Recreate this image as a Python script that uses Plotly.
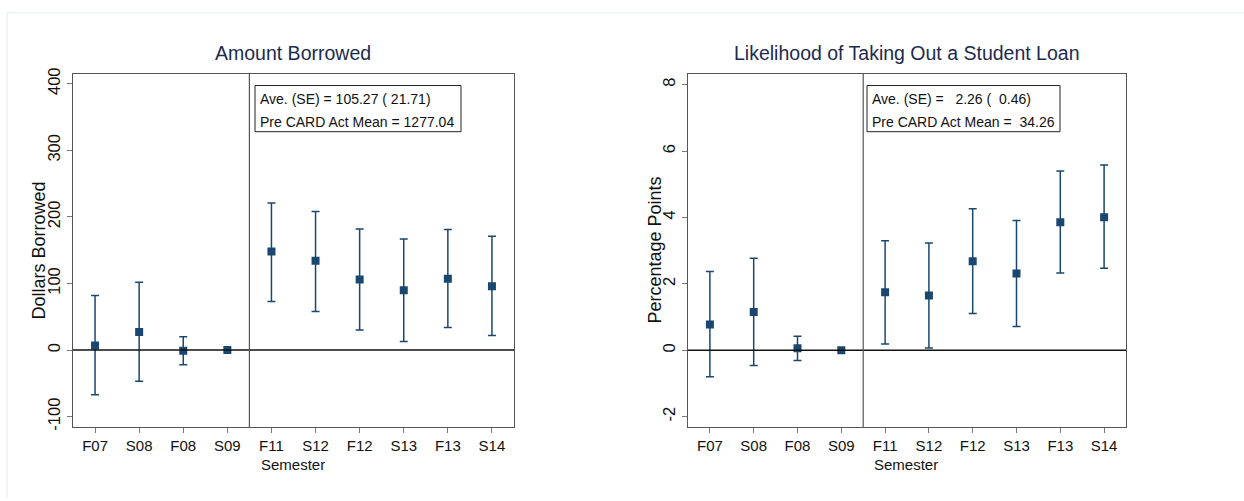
import plotly.graph_objects as go

semesters = ["F07", "S08", "F08", "S09", "F11", "S12", "F12", "S13", "F13", "S14"]

# Amount Borrowed (dollars)
amt_est = [7, 27, -1, 0, 148, 134, 106, 90, 107, 96]
amt_lo = [-67, -47, -22, None, 73, 58, 30, 13, 34, 22]
amt_hi = [82, 102, 20, None, 221, 208, 182, 167, 181, 171]

# Likelihood of taking out a student loan (percentage points)
lik_est = [0.78, 1.15, 0.06, 0.0, 1.75, 1.65, 2.68, 2.31, 3.86, 4.01]
lik_lo = [-0.80, -0.46, -0.31, None, 0.19, 0.07, 1.11, 0.72, 2.33, 2.47]
lik_hi = [2.37, 2.77, 0.42, None, 3.30, 3.23, 4.26, 3.91, 5.40, 5.58]

amt_ticks = [-100, 0, 100, 200, 300, 400]
amt_tick_labels = ["-100", "0", "100", "200", "300", "400"]
lik_ticks = [-2, 0, 2, 4, 6, 8]
lik_tick_labels = ["-2", "0", "2", "4", "6", "8"]

amt_box = ["Ave. (SE) = 105.27 ( 21.71)", "Pre CARD Act Mean = 1277.04"]
lik_box = ["Ave. (SE) = \u00a0\u00a02.26 (\u00a0\u00a00.46)", "Pre CARD Act Mean = \u00a034.26"]

NAVY = "#1a476f"
W, H = 1244, 501
FONT = "Liberation Sans, Arial, Helvetica, sans-serif"


def px(x):
    return x / W


def py(y):
    return 1 - y / H


def errs(est, lo, hi):
    plus, minus = [], []
    for e, l, h in zip(est, lo, hi):
        if l is None:
            plus.append(0)
            minus.append(0)
        else:
            plus.append(h - e)
            minus.append(e - l)
    return plus, minus


fig = go.Figure()

for est, lo, hi, xa, ya in [(amt_est, amt_lo, amt_hi, "x", "y"), (lik_est, lik_lo, lik_hi, "x2", "y2")]:
    plus, minus = errs(est, lo, hi)
    fig.add_trace(go.Scatter(
        x=list(range(len(semesters))), y=est, mode="markers",
        marker=dict(symbol="square", size=8, color=NAVY),
        error_y=dict(type="data", array=plus, arrayminus=minus, symmetric=False,
                     color=NAVY, thickness=1.5, width=4),
        xaxis=xa, yaxis=ya, showlegend=False,
    ))

axis_common = dict(showgrid=False, zeroline=False, showline=True, linecolor="#555555",
                   linewidth=1.2, mirror=True, ticks="outside", ticklen=5,
                   tickcolor="#777777")
xfont = dict(family=FONT, size=15, color="#111111")
yfont = dict(family=FONT, size=16.5, color="#111111")

fig.update_layout(
    width=W, height=H,
    margin=dict(l=0, r=0, t=0, b=0),
    paper_bgcolor="white", plot_bgcolor="white",
    xaxis=dict(domain=[px(73), px(514)], range=[-0.5, 9.5], tickvals=list(range(10)),
               ticktext=semesters, anchor="y", tickfont=xfont, **axis_common),
    yaxis=dict(domain=[py(429), py(69)], range=[-116, 415], tickvals=amt_ticks,
               ticktext=amt_tick_labels, tickangle=-90, anchor="x", tickfont=yfont, **axis_common),
    xaxis2=dict(domain=[px(688), px(1126)], range=[-0.5, 9.5], tickvals=list(range(10)),
                ticktext=semesters, anchor="y2", tickfont=xfont, **axis_common),
    yaxis2=dict(domain=[py(429), py(69)], range=[-2.32, 8.33], tickvals=lik_ticks,
                ticktext=lik_tick_labels, tickangle=-90, anchor="x2", tickfont=yfont, **axis_common),
)

shapes = []
for xa, ya in [("x", "y"), ("x2", "y2")]:
    shapes.append(dict(type="line", xref=f"{xa} domain", yref=ya, x0=0, x1=1, y0=0, y1=0,
                       line=dict(color="#111111", width=1.5)))
    shapes.append(dict(type="line", xref=xa, yref=f"{ya} domain", x0=3.5, x1=3.5, y0=0, y1=1,
                       line=dict(color="#555555", width=1.2)))
# annotation boxes
shapes.append(dict(type="rect", xref="paper", yref="paper", x0=px(255), x1=px(461),
                   y0=py(128), y1=py(81), line=dict(color="#222222", width=1)))
shapes.append(dict(type="rect", xref="paper", yref="paper", x0=px(867), x1=px(1060),
                   y0=py(128), y1=py(81), line=dict(color="#222222", width=1)))
# outer faint frame
shapes.append(dict(type="line", xref="paper", yref="paper", x0=px(7), x1=1, y0=py(7), y1=py(7),
                   line=dict(color="#e4ecec", width=1)))
shapes.append(dict(type="line", xref="paper", yref="paper", x0=px(7), x1=px(7), y0=0, y1=py(7),
                   line=dict(color="#e4ecec", width=1)))
fig.update_layout(shapes=shapes)

ann = []
TITLE_C = "#1c2b4e"
BASE = dict(xref="paper", yref="paper", showarrow=False, xanchor="center", yanchor="middle")
ann.append(dict(text="Amount Borrowed", x=px(293), y=py(48),
                font=dict(family=FONT, size=19.5, color=TITLE_C), **BASE))
ann.append(dict(text="Likelihood of Taking Out a Student Loan", x=px(906), y=py(48),
                font=dict(family=FONT, size=19.5, color=TITLE_C), **BASE))
ann.append(dict(text="Semester", x=px(293), y=py(467),
                font=dict(family=FONT, size=15, color="#111111"), **BASE))
ann.append(dict(text="Semester", x=px(906), y=py(467),
                font=dict(family=FONT, size=15, color="#111111"), **BASE))
ann.append(dict(text="Dollars Borrowed", x=px(39), y=py(249), textangle=-90,
                font=dict(family=FONT, size=18, color="#111111"), **BASE))
ann.append(dict(text="Percentage Points", x=px(655), y=py(249), textangle=-90,
                font=dict(family=FONT, size=18, color="#111111"), **BASE))
for x0, lines in [(258, amt_box), (870, lik_box)]:
    for i, t in enumerate(lines):
        b = dict(BASE)
        b["xanchor"] = "left"
        ann.append(dict(text=t, x=px(x0), y=py(95 + 23 * i),
                        font=dict(family=FONT, size=14, color="#111111"), **b))
fig.update_layout(annotations=ann)

fig.write_html("out.html", config={"displayModeBar": False},
               post_script="document.body.style.margin='0';")
